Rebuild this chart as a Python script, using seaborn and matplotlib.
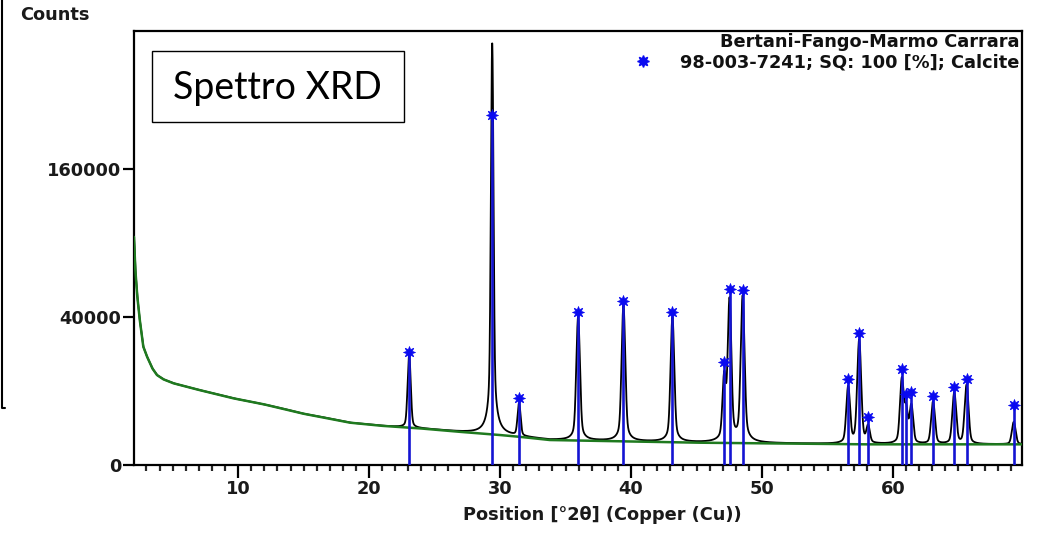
import numpy as np
import pandas as pd
import matplotlib
matplotlib.use("Agg")
import matplotlib.pyplot as plt
import matplotlib.patches as mpatches
from matplotlib.lines import Line2D
import seaborn as sns

# ---------------- data ----------------
# Calcite reference reflections (2theta, Cu) and stick heights (counts)
ref_pos = [23.06, 29.40, 31.45, 35.96, 39.42, 43.16, 47.12, 47.52, 48.52,
           56.58, 57.42, 58.10, 60.68, 61.00, 61.40, 63.06, 64.68, 65.62, 69.22]
ref_height = [23300, 223700, 8200, 42800, 49100, 42800, 19400, 56600, 55900,
              13500, 31800, 4200, 16800, 9200, 9700, 8700, 11100, 13500, 6600]

# Measured peak tops (counts above background) and widths (FWHM, deg)
meas_height = [19500, 323000, 5400, 39000, 45500, 39000, 14000, 50000, 51500,
               10500, 28000, 1900, 13000, 5200, 5800, 6600, 8800, 11000, 2600]
meas_fwhm = [0.24, 0.18, 0.24, 0.26, 0.26, 0.26, 0.26, 0.26, 0.27,
             0.28, 0.28, 0.28, 0.28, 0.28, 0.28, 0.29, 0.29, 0.29, 0.30]
lorentz_frac = 0.25

# Fitted background (2theta, counts)
bg_pos = [2.05, 2.15, 2.30, 2.50, 2.76, 3.05, 3.46, 3.80, 4.30, 5.06, 7.0,
          9.64, 12.0, 15.0, 18.55, 21.0, 24.0, 27.0, 30.0, 31.5, 33.8, 40.0,
          45.3, 58.0, 69.9]
bg_counts = [95000, 70000, 52000, 38000, 25600, 21400, 17000, 14800, 13400,
             12200, 10300, 8120, 6700, 4800, 3270, 2800, 2430, 2000, 1640,
             1450, 1140, 1010, 907, 780, 780]

x_ticks = [10, 20, 30, 40, 50, 60]
y_ticks = [0, 40000, 160000]
sample_name = "Bertani-Fango-Marmo Carrara"
phase_label = "98-003-7241; SQ: 100 [%]; Calcite"

# ---------------- measured pattern ----------------
two_theta = np.linspace(2.05, 69.9, 16000)
background = np.interp(two_theta, bg_pos, bg_counts)
counts = background.copy()
for x0, h, w in zip(ref_pos, meas_height, meas_fwhm):
    d = (two_theta - x0) / (w / 2)
    lor = 1.0 / (1.0 + d ** 2)
    gau = np.exp(-np.log(2) * d ** 2)
    counts += h * (lorentz_frac * lor + (1 - lorentz_frac) * gau)

scan = pd.DataFrame({"pos": two_theta, "counts": counts})
bg = pd.DataFrame({"pos": bg_pos, "counts": bg_counts})
sticks = pd.DataFrame({"pos": ref_pos, "height": ref_height})

# ---------------- figure ----------------
sns.set_style("ticks")
plt.rcParams["font.family"] = ["DejaVu Sans"]
plt.rcParams["font.weight"] = "bold"

FS = 12.8
INK = "#1a1a1a"
W, H = 1041, 533
fig = plt.figure(figsize=(W / 100, H / 100), dpi=100)
ax = fig.add_axes([134 / W, 1 - 465 / H, (1022 - 134) / W, (465 - 31) / H])

ax.set_yscale("function",
              functions=(lambda v: np.sqrt(np.clip(v, 0, None)), lambda v: np.square(v)))

sns.lineplot(data=scan, x="pos", y="counts", ax=ax, color="black", lw=1.3,
             estimator=None, sort=False, zorder=2)
sns.lineplot(data=bg, x="pos", y="counts", ax=ax, color="#1f7a1f", lw=1.8,
             estimator=None, sort=False, zorder=3)
ax.vlines(sticks["pos"], 0, sticks["height"], colors="#1414d2", lw=1.9, zorder=4)
sns.scatterplot(data=sticks, x="pos", y="height", ax=ax, marker=(8, 1, 0),
                s=75, color="#0a0af0", edgecolor="#0a0af0", linewidth=0.5,
                zorder=5)

ax.set_xlim(2.05, 69.85)
ax.set_ylim(0, 344000)
ax.set_xticks(x_ticks)
ax.set_xticks(np.arange(3, 70, 1), minor=True)
ax.set_yticks(y_ticks)
ax.set_yticks([], minor=True)
ax.set_yticklabels([str(v) for v in y_ticks])
ax.set_xlabel("")
ax.set_ylabel("")

for s in ax.spines.values():
    s.set_visible(True)
    s.set_linewidth(1.6)
    s.set_color("black")
ax.tick_params(axis="x", which="major", length=9, width=1.6, pad=2,
               labelsize=FS, colors="black")
ax.tick_params(axis="x", which="minor", length=4, width=1.6)
ax.tick_params(axis="y", which="major", length=8, width=1.6, pad=1,
               labelsize=FS, colors="black")
for lab in ax.get_xticklabels() + ax.get_yticklabels():
    lab.set_fontweight("bold")
    lab.set_color(INK)


def px(x, y):
    return x / W, 1 - y / H


fig.text(*px(20, 15), "Counts", ha="left", va="center", fontsize=FS,
         fontweight="bold", color=INK)
fig.text(*px(602, 515), "Position [°2θ] (Copper (Cu))", ha="center",
         va="center", fontsize=FS, fontweight="bold", color=INK)

# legend block
fig.text(*px(1019, 42), sample_name, ha="right", va="center", fontsize=FS,
         fontweight="bold", color="#111111")
fig.text(*px(1019, 62), phase_label, ha="right", va="center", fontsize=FS,
         fontweight="bold", color="#111111")
fig.add_artist(Line2D([643 / W], [1 - 61 / H], marker=(8, 1, 0), markersize=8.5,
                      color="#0a0af0", transform=fig.transFigure))

# title box
fig.add_artist(mpatches.Rectangle(px(152, 122), (404 - 152) / W, (122 - 51) / H,
                                  transform=fig.transFigure, fill=True,
                                  facecolor="white", edgecolor="black", lw=1.0))
fig.text(*px(277, 88), "Spettro XRD", ha="center", va="center", fontsize=27,
         fontweight="normal", family=["Lato", "DejaVu Sans"], color="black")

# partial frame at the left edge
fig.add_artist(Line2D([2 / W, 2 / W, 5 / W], [1.0, 1 - 408 / H, 1 - 408 / H],
                      color="black", lw=1.5, transform=fig.transFigure))

fig.savefig("out.png", dpi=100, facecolor="white")
